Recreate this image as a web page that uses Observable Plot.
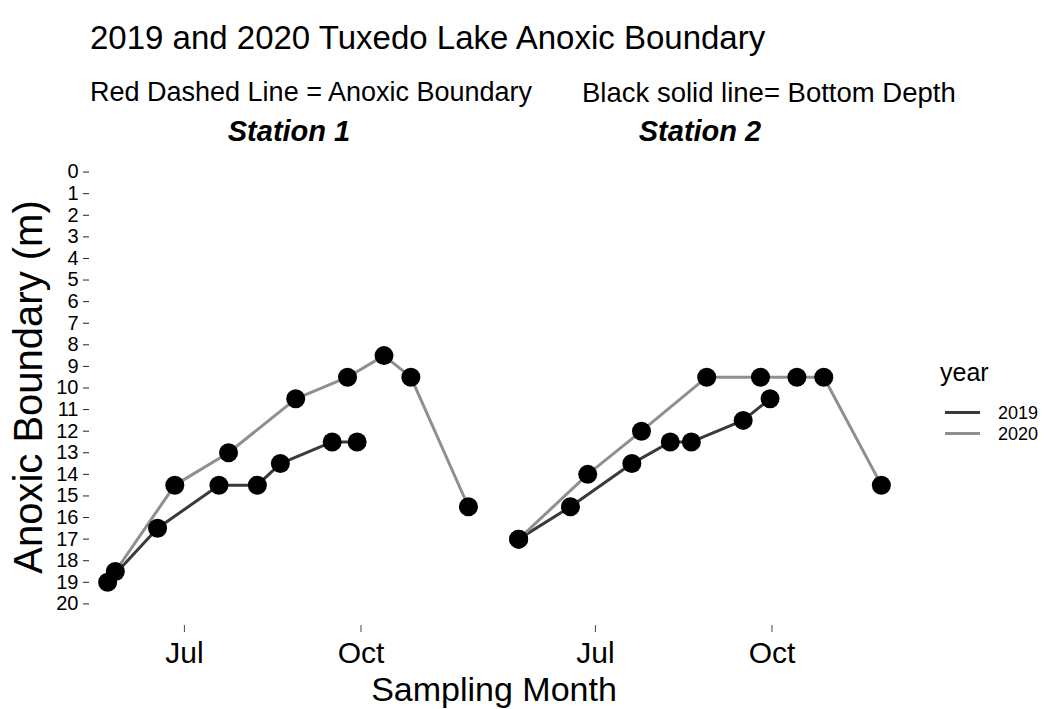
<!DOCTYPE html>
<html>
<head>
<meta charset="utf-8">
<script src="https://cdn.jsdelivr.net/npm/d3@7"></script>
<script src="https://cdn.jsdelivr.net/npm/@observablehq/plot@0.6"></script>
<style>
  body { margin: 0; background: #fff; }
  #wrap { position: relative; width: 1047px; height: 709px; font-family: "Liberation Sans", Arial, sans-serif; color: #000; overflow: hidden; }
  .t { position: absolute; white-space: nowrap; line-height: 1; }
  #plot { position: absolute; left: 0; top: 100px; }
  g[aria-label="fx-axis tick label"] text { font-weight: bold; font-style: italic; }
</style>
</head>
<body>
<div id="wrap">
  <div class="t" style="left:90px; top:21px; font-size:33px;">2019 and 2020 Tuxedo Lake Anoxic Boundary</div>
  <div class="t" style="left:90px; top:79px; font-size:27px;">Red Dashed Line = Anoxic Boundary</div>
  <div class="t" style="left:582px; top:79px; font-size:27.5px;">Black solid line= Bottom Depth</div>
  <div class="t" style="left:494px; top:672px; font-size:34px; transform:translateX(-50%);">Sampling Month</div>
  <div class="t" style="left:28px; top:387px; font-size:40px; transform:translate(-50%,-50%) rotate(-90deg);">Anoxic Boundary (m)</div>
  <div id="plot"></div>
  <div id="legend" style="position:absolute; left:940px; top:360px;"></div>
</div>
<script>
// ---- data ----
const stations = ["Station 1", "Station 2"];
const years = ["2019", "2020"];
const yearColors = ["#3a3a3a", "#8f8f8f"];

const s1_2019_dates = ["2020-05-22","2020-06-17","2020-07-19","2020-08-08","2020-08-20","2020-09-16","2020-09-29"];
const s1_2019_depth = [19, 16.5, 14.5, 14.5, 13.5, 12.5, 12.5];
const s1_2020_dates = ["2020-05-26","2020-06-26","2020-07-24","2020-08-28","2020-09-24","2020-10-13","2020-10-27","2020-11-26"];
const s1_2020_depth = [18.5, 14.5, 13, 10.5, 9.5, 8.5, 9.5, 15.5];
const s2_2019_dates = ["2020-05-22","2020-06-18","2020-07-20","2020-08-09","2020-08-20","2020-09-16","2020-09-30"];
const s2_2019_depth = [17, 15.5, 13.5, 12.5, 12.5, 11.5, 10.5];
const s2_2020_dates = ["2020-05-22","2020-06-27","2020-07-25","2020-08-28","2020-09-25","2020-10-14","2020-10-28","2020-11-27"];
const s2_2020_depth = [17, 14, 12, 9.5, 9.5, 9.5, 9.5, 14.5];

const xTickDates = ["2020-07-01", "2020-10-01"];
const xTickLabels = ["Jul", "Oct"];
const yTicks = [0,1,2,3,4,5,6,7,8,9,10,11,12,13,14,15,16,17,18,19,20];
const yLimits = [0, 20];

// ---- build table ----
function rows(station, year, dates, depths) {
  return dates.map((d, i) => ({station, year, date: new Date(d), depth: depths[i]}));
}
const data = [
  ...rows(stations[0], years[0], s1_2019_dates, s1_2019_depth),
  ...rows(stations[0], years[1], s1_2020_dates, s1_2020_depth),
  ...rows(stations[1], years[0], s2_2019_dates, s2_2019_depth),
  ...rows(stations[1], years[1], s2_2020_dates, s2_2020_depth)
];

const ext = d3.extent(data, d => d.date);
const pad = (ext[1] - ext[0]) * 0.05;
const xDomain = [new Date(+ext[0] - pad), new Date(+ext[1] + pad)];
const yPad = (yLimits[1] - yLimits[0]) * 0.05;
const xTicks = xTickDates.map(d => new Date(d));
const tickLabel = new Map(xTicks.map((d, i) => [+d, xTickLabels[i]]));

const chart = Plot.plot({
  width: 1047,
  height: 609,
  marginLeft: 89,
  marginRight: 147,
  marginTop: 50,
  marginBottom: 84,
  style: {fontFamily: '"Liberation Sans", Arial, sans-serif', color: "#000", background: "transparent"},
  fx: {domain: stations, paddingInner: 0.029, paddingOuter: 0},
  x: {type: "utc", domain: xDomain},
  y: {domain: [yLimits[0] - yPad, yLimits[1] + yPad], reverse: true},
  color: {domain: years, range: yearColors},
  marks: [
    Plot.axisFx({anchor: "top", tickSize: 0, tickPadding: 10, fontSize: 29, label: null}),
    Plot.axisY({ticks: yTicks, tickSize: 6, tickPadding: 5, fontSize: 20, label: null, stroke: "#222"}),
    Plot.axisX({ticks: xTicks, tickFormat: d => tickLabel.get(+d), tickSize: 7, tickPadding: 9, fontSize: 30, label: null, stroke: "#444"}),
    Plot.line(data, {x: "date", y: "depth", z: "year", stroke: "year", fx: "station", strokeWidth: 3}),
    Plot.dot(data, {x: "date", y: "depth", fx: "station", r: 9.5, fill: "#000", stroke: "none"})
  ]
});
document.getElementById("plot").appendChild(chart);

// ---- legend ----
const leg = d3.select("#legend");
leg.append("div").attr("class", "t").style("position", "relative").style("font-size", "25px").style("left", "0px").text("year");
years.forEach((y, i) => {
  const row = leg.append("div").style("display", "flex").style("align-items", "center").style("height", "21px")
    .style("margin-top", i === 0 ? "17px" : "0px");
  const s = row.append("svg").attr("width", 42).attr("height", 21);
  s.append("line").attr("x1", 5).attr("x2", 40).attr("y1", 10.5).attr("y2", 10.5)
    .attr("stroke", yearColors[i]).attr("stroke-width", 3);
  row.append("span").style("font-size", "18px").style("margin-left", "16px").style("line-height", "1").text(y);
});
</script>
</body>
</html>
